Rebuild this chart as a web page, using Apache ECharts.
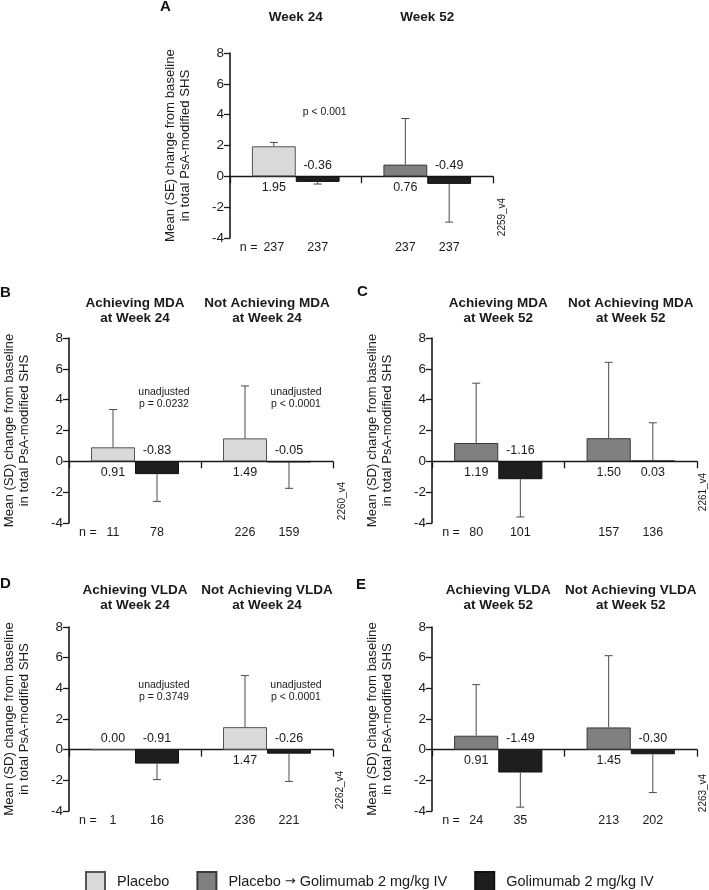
<!DOCTYPE html>
<html>
<head>
<meta charset="utf-8">
<script src="https://cdn.jsdelivr.net/npm/echarts@6/dist/echarts.min.js"></script>
<style>
html,body{margin:0;padding:0;background:#fff;}
#chart{width:709px;height:890px;}
</style>
</head>
<body>
<div id="chart"></div>
<script>
// ---------- DATA ----------
const seriesNames = ['Placebo', 'Placebo \u2192 Golimumab 2 mg/kg IV', 'Golimumab 2 mg/kg IV'];
const yTicks = { min: -4, max: 8, interval: 2 };

// Panel A (mean, SE)
const aHeaders = ['Week 24', 'Week 52'];
const aPlacebo = [1.95, '-'];
const aSwitch = ['-', 0.76];
const aGoli = [-0.36, -0.49];
const aFirstErr = [0.25, 2.99];
const aGoliErr = [0.14, 2.48];
const aN = [237, 237, 237, 237];

// Panel B (mean, SD)
const bHeaders = ['Achieving MDA\nat Week 24', 'Not Achieving MDA\nat Week 24'];
const bPlacebo = [0.91, 1.49];
const bSwitch = ['-', '-'];
const bGoli = [-0.83, -0.05];
const bFirstErr = [2.45, 3.40];
const bGoliErr = [1.77, 1.70];
const bN = [11, 78, 226, 159];

// Panel C
const cHeaders = ['Achieving MDA\nat Week 52', 'Not Achieving MDA\nat Week 52'];
const cPlacebo = ['-', '-'];
const cSwitch = [1.19, 1.50];
const cGoli = [-1.16, 0.03];
const cFirstErr = [3.88, 4.92];
const cGoliErr = [2.45, 2.47];
const cN = [80, 101, 157, 136];

// Panel D
const dHeaders = ['Achieving VLDA\nat Week 24', 'Not Achieving VLDA\nat Week 24'];
const dPlacebo = [0.00, 1.47];
const dSwitch = ['-', '-'];
const dGoli = [-0.91, -0.26];
const dFirstErr = ['-', 3.36];
const dGoliErr = [1.04, 1.81];
const dN = [1, 16, 236, 221];

// Panel E
const eHeaders = ['Achieving VLDA\nat Week 52', 'Not Achieving VLDA\nat Week 52'];
const ePlacebo = ['-', '-'];
const eSwitch = [0.91, 1.45];
const eGoli = [-1.49, -0.30];
const eFirstErr = [3.33, 4.68];
const eGoliErr = [2.26, 2.50];
const eN = [24, 35, 213, 202];

// p-value annotations: [category, y value, text]
const aNotes = [[0, 4.15, 'p < 0.001']];
const bNotes = [[0, 4.1, 'unadjusted\np = 0.0232'], [1, 4.1, 'unadjusted\np < 0.0001']];
const cNotes = [];
const dNotes = [[0, 3.85, 'unadjusted\np = 0.3749'], [1, 3.85, 'unadjusted\np < 0.0001']];
const eNotes = [];

const yNameSE = 'Mean (SE) change from baseline\nin total PsA-modified SHS';
const yNameSD = 'Mean (SD) change from baseline\nin total PsA-modified SHS';

// ---------- STYLE / LAYOUT ----------
const FONT = "'Liberation Sans', Arial, Helvetica, sans-serif";
const TXT = '#1a1a1a';
const colors = {
  placebo: { color: '#d9d9d9', borderColor: '#555', borderWidth: 1 },
  sw: { color: '#808080', borderColor: '#3a3a3a', borderWidth: 1 },
  goli: { color: '#1e1e1e', borderColor: '#111', borderWidth: 1 }
};

const panels = [
  { headers: aHeaders, pl: aPlacebo, sw: aSwitch, go: aGoli, fe: aFirstErr, ge: aGoliErr, n: aN, notes: aNotes, yName: yNameSE,
    grid: { left: 230, top: 53, width: 263, height: 185 }, headMargin: 28 },
  { headers: bHeaders, pl: bPlacebo, sw: bSwitch, go: bGoli, fe: bFirstErr, ge: bGoliErr, n: bN, notes: bNotes, yName: yNameSD,
    grid: { left: 69, top: 338, width: 264, height: 185 }, headMargin: 12 },
  { headers: cHeaders, pl: cPlacebo, sw: cSwitch, go: cGoli, fe: cFirstErr, ge: cGoliErr, n: cN, notes: cNotes, yName: yNameSD,
    grid: { left: 432, top: 338, width: 265, height: 185 }, headMargin: 12 },
  { headers: dHeaders, pl: dPlacebo, sw: dSwitch, go: dGoli, fe: dFirstErr, ge: dGoliErr, n: dN, notes: dNotes, yName: yNameSD,
    grid: { left: 69, top: 627, width: 264, height: 184 }, headMargin: 14 },
  { headers: eHeaders, pl: ePlacebo, sw: eSwitch, go: eGoli, fe: eFirstErr, ge: eGoliErr, n: eN, notes: eNotes, yName: yNameSD,
    grid: { left: 432, top: 627, width: 265, height: 184 }, headMargin: 14 }
];

function num(v) { return (v === '-' || v === null || v === undefined) ? NaN : v; }

const grids = [], xAxes = [], yAxes = [], series = [];

panels.forEach(function (p, i) {
  grids.push(Object.assign({ containLabel: false }, p.grid));
  const bottomX = xAxes.length;
  xAxes.push({
    type: 'category', gridIndex: i, data: ['', ''],
    axisLine: { onZero: true, lineStyle: { color: '#1a1a1a', width: 1.3 } },
    axisTick: { show: true, alignWithLabel: false, interval: 0, length: 7, inside: false, lineStyle: { color: '#1a1a1a', width: 1.3 } },
    axisLabel: { show: false }, splitLine: { show: false }
  });
  xAxes.push({
    type: 'category', gridIndex: i, position: 'top', data: p.headers,
    axisLine: { show: false }, axisTick: { show: false }, splitLine: { show: false },
    axisLabel: { show: true, interval: 0, margin: p.headMargin, fontWeight: 'bold', fontSize: 13.5, lineHeight: 15, color: TXT, fontFamily: FONT }
  });
  yAxes.push({
    type: 'value', gridIndex: i, min: yTicks.min, max: yTicks.max, interval: yTicks.interval,
    axisLine: { show: true, onZero: false, lineStyle: { color: '#1a1a1a', width: 1.6 } },
    axisTick: { show: true, length: 6, lineStyle: { color: '#1a1a1a', width: 1.3 } },
    axisLabel: { fontSize: 13.5, color: TXT, margin: 6, fontFamily: FONT },
    splitLine: { show: false },
    name: p.yName, nameLocation: 'middle', nameGap: 37,
    nameTextStyle: { fontSize: 13.2, lineHeight: 15, color: TXT, fontFamily: FONT }
  });

  const common = { type: 'bar', xAxisIndex: bottomX, yAxisIndex: i, barWidth: '33.33%', barGap: '0%', stack: 'first' + i, animation: false };
  series.push(Object.assign({}, common, { name: seriesNames[0], data: p.pl, itemStyle: colors.placebo }));
  series.push(Object.assign({}, common, { name: seriesNames[1], data: p.sw, itemStyle: colors.sw }));
  series.push(Object.assign({}, common, { name: seriesNames[2], data: p.go, itemStyle: colors.goli, stack: 'second' + i }));

  // error bars + value labels + n labels
  const items = [];
  for (let c = 0; c < 2; c++) {
    const firstMean = !isNaN(num(p.pl[c])) ? p.pl[c] : p.sw[c];
    items.push([c, 0, firstMean, num(p.fe[c]), p.n[c * 2]]);
    items.push([c, 1, p.go[c], num(p.ge[c]), p.n[c * 2 + 1]]);
  }
  series.push({
    type: 'custom', xAxisIndex: bottomX, yAxisIndex: i, clip: false, z: 5, animation: false, silent: true,
    encode: { x: 0, y: 2 },
    data: items,
    renderItem: function (params, api) {
      const cat = api.value(0), slot = api.value(1), mean = api.value(2), err = api.value(3), n = api.value(4);
      const band = api.size([1, 0])[0];
      const off = (slot === 0 ? -1 : 1) * band / 6;
      const p0 = api.coord([cat, 0]);
      const x = p0[0] + off;
      const children = [];
      if (!isNaN(err)) {
        const sgn = mean > 0 ? 1 : -1;
        const pm = api.coord([cat, mean]);
        const pe = api.coord([cat, mean + sgn * err]);
        const ls = { stroke: '#4a4a4a', lineWidth: 1 };
        children.push({ type: 'line', shape: { x1: x, y1: pm[1], x2: x, y2: pe[1] }, style: ls });
        children.push({ type: 'line', shape: { x1: x - 4, y1: pe[1], x2: x + 4, y2: pe[1] }, style: ls });
      }
      children.push({
        type: 'text',
        style: { x: x, y: p0[1] + (mean > 0 ? 11 : -11), text: mean.toFixed(2), align: 'center', verticalAlign: 'middle',
                 fontSize: 12.5, fill: TXT, fontFamily: FONT }
      });
      const pb = api.coord([cat, yTicks.min]);
      children.push({
        type: 'text',
        style: { x: x, y: pb[1] + 10, text: String(n), align: 'center', verticalAlign: 'middle', fontSize: 12.5, fill: TXT, fontFamily: FONT }
      });
      if (cat === 0 && slot === 0) {
        children.push({
          type: 'text',
          style: { x: x - 34, y: pb[1] + 10, text: 'n =', align: 'left', verticalAlign: 'middle', fontSize: 12.5, fill: TXT, fontFamily: FONT }
        });
      }
      return { type: 'group', children: children };
    }
  });

  if (p.notes.length) {
    series.push({
      type: 'custom', xAxisIndex: bottomX, yAxisIndex: i, clip: false, z: 6, animation: false, silent: true,
      encode: { x: 0, y: 1 },
      data: p.notes.map(function (d) { return [d[0], d[1]]; }),
      renderItem: function (params, api) {
        const cat = api.value(0), yv = api.value(1);
        const band = api.size([1, 0])[0];
        const pt = api.coord([cat, yv]);
        return {
          type: 'text',
          style: { x: pt[0] + band / 6 + 7, y: pt[1], text: p.notes[params.dataIndex][2], align: 'center', verticalAlign: 'middle',
                   fontSize: 10.5, lineHeight: 12, fill: TXT, fontFamily: FONT }
        };
      }
    });
  }
});

const letters = [
  { t: 'A', x: 166, y: 7 }, { t: 'B', x: 6, y: 293 }, { t: 'C', x: 363, y: 292 },
  { t: 'D', x: 6, y: 584 }, { t: 'E', x: 362, y: 585 }
];
const versions = [
  { t: '2259_v4', x: 502, y: 217 }, { t: '2260_v4', x: 342, y: 501 }, { t: '2261_v4', x: 703, y: 492 },
  { t: '2262_v4', x: 340, y: 790 }, { t: '2263_v4', x: 703, y: 793 }
];
const graphics = [];
letters.forEach(function (l) {
  graphics.push({ type: 'text', left: l.x - 6, top: l.y - 8, style: { text: l.t, fontSize: 15, fontWeight: 'bold', fill: '#111', fontFamily: FONT } });
});
versions.forEach(function (v) {
  graphics.push({ type: 'text', x: v.x, y: v.y, rotation: Math.PI / 2,
    style: { text: v.t, fontSize: 10, fill: TXT, fontFamily: FONT, align: 'center', verticalAlign: 'middle' } });
});

const chart = echarts.init(document.getElementById('chart'), null, { renderer: 'canvas' });
chart.setOption({
  animation: false,
  backgroundColor: '#fff',
  textStyle: { fontFamily: FONT },
  grid: grids, xAxis: xAxes, yAxis: yAxes, series: series,
  legend: {
    data: seriesNames, left: 80, top: 866, icon: 'rect', itemWidth: 19, itemHeight: 19, itemGap: 27,
    selectedMode: false,
    formatter: function (name) { return name.split('\u2192').join('{arr|\u2192}'); },
    textStyle: { fontSize: 14.5, color: TXT, fontFamily: FONT, padding: [0, 0, 0, 7],
      rich: { arr: { fontFamily: "'DejaVu Sans', sans-serif", fontSize: 13, color: TXT } } }
  },
  graphic: graphics
});
</script>
</body>
</html>
